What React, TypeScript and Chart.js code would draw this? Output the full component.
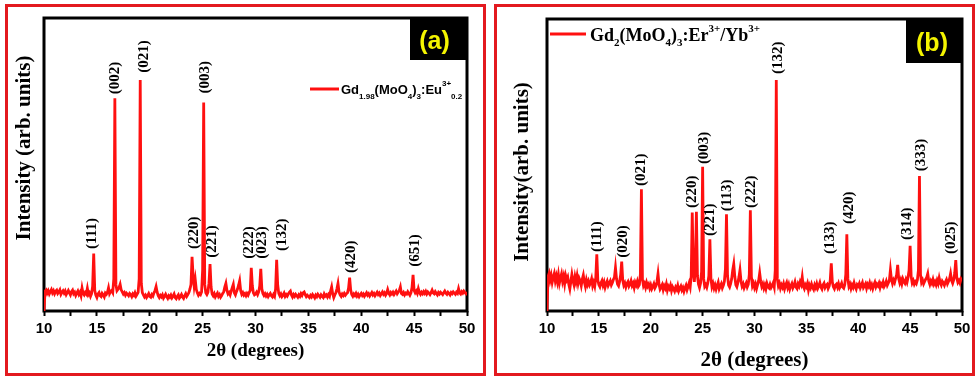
import React, { useEffect, useRef } from 'react';
import { Chart, registerables } from 'chart.js';

Chart.register(...registerables);

// ---- scan grid (2θ, degrees) ----
const scanStart = 10;
const scanStep = 0.1;

// ---- panel (a): Gd1.98(MoO4)3:Eu3+0.2, intensity for 2θ = 10.0 ... 50.0 (step 0.1) ----
const intensityA = [
  0, 6.8, 7.2, 6.1, 6.9, 5.8, 6.6, 7.3, 6.2, 6.9, // 10
  5.9, 6.7, 7.1, 6.0, 6.5, 7.2, 5.7, 6.4, 6.9, 6.1, // 11
  6.8, 5.6, 6.3, 7.0, 6.2, 5.5, 6.6, 7.1, 5.9, 6.4, // 12
  5.3, 6.1, 6.8, 5.7, 6.4, 5.2, 7.8, 6.0, 5.5, 6.3, // 13
  5.8, 7.7, 5.6, 6.2, 5.0, 5.9, 8.5, 19.6, 7.0, 5.4, // 14
  4.6, 5.8, 6.3, 5.2, 4.9, 6.0, 5.5, 4.8, 6.1, 5.7, // 15
  6.4, 7.9, 5.9, 6.6, 7.0, 6.3, 11.0, 72.6, 9.0, 6.9, // 16
  7.4, 8.0, 9.1, 7.2, 6.5, 5.8, 6.3, 5.4, 6.1, 5.7, // 17
  5.2, 6.0, 5.6, 4.9, 5.8, 5.3, 6.2, 5.1, 5.7, 6.4, // 18
  11.0, 78.8, 9.4, 6.3, 5.5, 4.8, 5.4, 4.6, 5.2, 5.9, // 19
  5.0, 4.7, 5.6, 5.1, 6.2, 7.0, 8.3, 6.4, 5.2, 4.6, // 20
  5.3, 4.8, 5.5, 4.4, 5.0, 5.7, 4.9, 4.3, 5.2, 4.7, // 21
  5.4, 4.5, 5.1, 5.8, 4.6, 4.2, 5.0, 5.5, 4.4, 4.9, // 22
  5.6, 4.8, 4.3, 5.2, 5.9, 5.0, 5.6, 6.3, 7.5, 9.0, // 23
  18.5, 12.0, 8.5, 10.8, 7.4, 6.2, 5.4, 6.0, 5.6, 6.5, // 24
  14.0, 71.2, 9.0, 6.2, 5.6, 6.4, 9.5, 16.0, 8.2, 5.8, // 25
  5.2, 5.9, 4.8, 5.5, 6.1, 5.0, 5.6, 4.7, 5.3, 6.0, // 26
  6.6, 8.2, 9.4, 7.0, 5.8, 6.3, 5.5, 6.8, 8.0, 9.1, // 27
  6.2, 5.5, 6.6, 7.5, 8.8, 10.3, 6.9, 5.7, 6.3, 5.4, // 28
  5.9, 5.2, 6.0, 5.4, 6.3, 7.0, 14.7, 8.6, 6.2, 5.5, // 29
  5.8, 6.4, 5.6, 6.5, 8.5, 14.4, 7.6, 6.0, 5.3, 5.9, // 30
  5.1, 5.7, 4.9, 5.5, 6.0, 5.2, 4.8, 5.6, 5.0, 7.5, // 31
  17.5, 8.8, 6.0, 5.2, 5.8, 4.9, 5.4, 6.1, 5.0, 5.6, // 32
  5.1, 5.8, 6.4, 6.8, 5.5, 4.8, 5.6, 5.0, 5.7, 5.2, // 33
  4.7, 5.5, 5.0, 5.9, 5.3, 6.2, 6.5, 5.6, 4.9, 5.4, // 34
  5.0, 4.6, 5.3, 4.8, 5.6, 5.1, 4.5, 5.4, 4.9, 5.7, // 35
  5.2, 4.7, 5.5, 5.0, 4.6, 5.8, 5.1, 5.5, 4.8, 5.6, // 36
  5.0, 6.8, 8.2, 5.9, 4.6, 5.5, 6.2, 7.6, 9.4, 6.5, // 37
  5.5, 5.0, 5.8, 5.3, 6.0, 5.4, 5.9, 6.2, 7.8, 11.4, // 38
  7.2, 5.6, 5.0, 5.8, 5.3, 6.0, 5.1, 5.7, 4.9, 5.5, // 39
  6.0, 5.3, 5.8, 5.0, 5.6, 6.2, 5.4, 5.9, 5.1, 5.7, // 40
  6.3, 5.5, 6.0, 5.2, 5.8, 6.4, 5.6, 6.1, 5.3, 5.9, // 41
  6.5, 5.7, 6.2, 5.4, 6.0, 7.3, 6.1, 5.5, 6.3, 5.8, // 42
  6.4, 5.6, 6.2, 6.8, 5.9, 6.5, 7.0, 8.2, 6.0, 5.7, // 43
  6.3, 5.5, 6.1, 5.8, 6.6, 6.0, 5.4, 6.2, 8.0, 12.3, // 44
  7.0, 6.2, 6.8, 6.0, 7.6, 6.3, 5.7, 6.4, 5.9, 6.6, // 45
  6.0, 6.7, 5.8, 6.5, 6.1, 5.6, 6.3, 7.1, 6.2, 5.9, // 46
  6.6, 6.0, 5.5, 6.3, 5.8, 6.4, 6.0, 5.6, 6.2, 6.8, // 47
  6.1, 5.7, 6.4, 6.0, 5.5, 6.3, 5.9, 6.5, 6.1, 5.7, // 48
  6.4, 6.0, 7.6, 6.2, 5.8, 6.6, 6.1, 6.8, 6.3, 5.9, // 49
  6.5, // 50
];

// ---- panel (b): Gd2(MoO4)3:Er3+/Yb3+, intensity for 2θ = 10.0 ... 50.0 (step 0.1) ----
const intensityB = [
  0, 11.8, 12.9, 10.6, 12.2, 9.8, 11.5, 12.8, 10.3, 11.9, // 10
  10.0, 12.4, 9.6, 11.3, 12.7, 10.2, 11.8, 9.4, 12.1, 10.7, // 11
  11.6, 9.2, 7.6, 10.1, 12.5, 10.4, 9.0, 11.7, 10.0, 12.0, // 12
  9.5, 11.2, 10.3, 8.7, 10.9, 12.3, 9.9, 8.4, 10.6, 9.1, // 13
  10.2, 8.9, 9.7, 11.0, 8.6, 9.8, 8.5, 11.2, 19.4, 10.5, // 14
  9.0, 8.3, 9.6, 10.4, 8.8, 9.9, 8.1, 9.3, 10.2, 8.7, // 15
  9.5, 10.3, 8.9, 9.7, 10.8, 11.5, 14.8, 11.0, 9.2, 8.6, // 16
  10.1, 12.4, 16.9, 10.5, 8.8, 9.6, 8.2, 9.4, 10.0, 8.5, // 17
  9.2, 10.3, 8.7, 9.5, 8.0, 9.8, 8.9, 10.1, 8.4, 9.0, // 18
  12.5, 41.7, 10.8, 8.6, 9.4, 8.1, 9.7, 8.5, 9.2, 7.8, // 19
  8.9, 7.6, 8.4, 9.3, 7.9, 8.6, 10.0, 12.7, 9.1, 7.5, // 20
  8.2, 9.0, 7.3, 8.6, 7.8, 9.2, 7.1, 8.4, 7.7, 8.8, // 21
  7.0, 8.3, 7.6, 6.8, 8.1, 7.4, 8.7, 6.9, 7.8, 8.5, // 22
  7.2, 8.0, 6.7, 7.9, 8.8, 7.3, 8.4, 9.6, 8.2, 12.0, // 23
  33.7, 14.0, 10.0, 15.0, 34.0, 12.0, 9.2, 8.0, 9.5, 13.5, // 24
  49.4, 11.0, 8.4, 9.0, 8.1, 9.6, 12.0, 24.6, 11.2, 8.3, // 25
  9.4, 7.8, 8.9, 7.5, 8.7, 9.8, 7.6, 8.5, 9.3, 7.9, // 26
  8.8, 10.2, 14.5, 33.1, 12.0, 8.9, 8.2, 9.4, 11.0, 14.0, // 27
  16.1, 11.8, 9.0, 8.3, 9.7, 11.6, 14.0, 10.2, 8.5, 9.3, // 28
  7.9, 8.8, 9.6, 8.2, 9.1, 12.5, 34.5, 11.8, 8.6, 9.5, // 29
  8.0, 9.2, 7.7, 9.0, 10.4, 13.0, 10.1, 8.4, 9.3, 7.8, // 30
  8.9, 7.6, 9.4, 8.3, 7.9, 9.1, 8.0, 8.7, 9.6, 8.2, // 31
  14.0, 79.1, 11.0, 8.6, 9.5, 7.8, 8.9, 8.1, 9.3, 7.6, // 32
  8.8, 9.7, 8.0, 9.1, 7.5, 8.6, 9.4, 7.9, 8.7, 9.9, // 33
  8.2, 7.7, 9.3, 8.5, 10.0, 9.1, 11.6, 8.4, 7.6, 9.0, // 34
  8.3, 9.4, 7.2, 8.8, 7.9, 9.2, 8.1, 7.4, 8.9, 8.0, // 35
  9.3, 7.8, 8.6, 9.7, 8.2, 7.5, 8.9, 9.5, 8.0, 8.7, // 36
  9.1, 7.7, 8.5, 10.5, 16.3, 10.0, 8.3, 7.6, 8.8, 9.2, // 37
  8.1, 9.3, 7.9, 8.6, 9.5, 8.2, 7.8, 9.0, 12.5, 26.3, // 38
  11.0, 8.4, 9.2, 7.7, 8.9, 8.1, 9.6, 8.3, 7.5, 9.0, // 39
  8.5, 9.4, 7.9, 8.8, 9.7, 8.0, 8.6, 9.3, 7.8, 9.1, // 40
  8.4, 9.6, 8.1, 9.0, 7.7, 8.9, 9.8, 8.3, 9.2, 8.6, // 41
  9.5, 8.0, 9.3, 8.7, 9.9, 8.4, 9.1, 10.2, 8.8, 9.6, // 42
  10.5, 14.0, 10.8, 9.4, 10.6, 9.8, 11.2, 12.4, 15.8, 11.0, // 43
  9.6, 10.7, 9.3, 11.0, 10.1, 9.5, 10.8, 9.8, 11.5, 14.0, // 44
  22.3, 11.8, 9.6, 10.4, 9.2, 10.0, 9.4, 10.6, 14.0, 46.2, // 45
  12.5, 9.8, 10.6, 9.3, 10.1, 10.9, 11.5, 12.8, 10.2, 9.1, // 46
  10.3, 9.5, 10.8, 9.2, 10.0, 9.0, 10.5, 9.4, 11.3, 9.7, // 47
  8.9, 10.2, 9.6, 8.8, 9.9, 10.7, 9.3, 10.1, 11.0, 12.8, // 48
  10.4, 9.5, 10.6, 13.0, 17.4, 11.2, 9.8, 10.5, 9.6, 10.9, // 49
  10.2, // 50
];

// ---- Miller-index labels (2θ of label, intensity at label foot) ----
const hklA = ['(111)', '(002)', '(021)', '(220)', '(003)', '(221)', '(222)', '(023)', '(132)', '(420)', '(651)'];
const hklXA = [14.53, 16.76, 19.46, 24.15, 25.28, 25.94, 29.43, 30.66, 32.55, 39.06, 45.09];
const hklYA = [21.2, 74.0, 81.3, 21.2, 74.2, 18.2, 17.8, 17.8, 20.5, 13.0, 15.1];

const hklB = ['(111)', '(020)', '(021)', '(220)', '(003)', '(221)', '(113)', '(222)', '(132)', '(133)', '(420)', '(314)', '(333)', '(025)'];
const hklXB = [14.81, 17.31, 19.04, 23.94, 25.19, 25.77, 27.4, 29.71, 32.31, 37.31, 39.13, 44.71, 46.06, 48.94];
const hklYB = [20.2, 18.2, 42.8, 35.3, 50.3, 25.7, 34.2, 35.3, 81.2, 19.5, 29.8, 24.3, 47.9, 19.5];

const xMin = 10;
const xMax = 50;
const yMin = 0;
const yMax = 100;

const RED = '#ff1010';
const SERIF = '"Liberation Serif", "Times New Roman", serif';
const SANS = '"Liberation Sans", Arial, sans-serif';

type Seg = { t: string; s: number; dy: number };

const legendA: Seg[] = [
  { t: 'Gd', s: 13, dy: 0 },
  { t: '1.98', s: 8, dy: 5 },
  { t: '(MoO', s: 13, dy: 0 },
  { t: '4', s: 8, dy: 5 },
  { t: ')', s: 13, dy: 0 },
  { t: '3', s: 8, dy: 5 },
  { t: ':Eu', s: 13, dy: 0 },
  { t: '3+', s: 8, dy: -8 },
  { t: '0.2', s: 8, dy: 5 },
];

const legendB: Seg[] = [
  { t: 'Gd', s: 18, dy: 0 },
  { t: '2', s: 11, dy: 5 },
  { t: '(MoO', s: 18, dy: 0 },
  { t: '4', s: 11, dy: 5 },
  { t: ')', s: 18, dy: 0 },
  { t: '3', s: 11, dy: 5 },
  { t: ':Er', s: 18, dy: 0 },
  { t: '3+', s: 11, dy: -9 },
  { t: '/Yb', s: 18, dy: 0 },
  { t: '3+', s: 11, dy: -9 },
];

type PanelCfg = {
  letter: string;
  intensity: number[];
  hkl: string[];
  hklX: number[];
  hklY: number[];
  legend: Seg[];
  legendFont: string;
  legendLine: [number, number, number];
  legendTextX: number;
  legendBaseline: number;
  boxLeft: number;
  boxBottom: number;
  letterCenter: [number, number];
  yTitle: string;
  yTitleCenter: [number, number];
  yTitleSize: number;
  xTitleSize: number;
  xTitlePad: number;
  area: { left: number; right: number; top: number; bottom: number };
};

const W = 490;
const H = 379;

function makePlugin(cfg: PanelCfg) {
  return {
    id: 'panelDecor' + cfg.letter,
    beforeDatasetsDraw(chart: any) {
      const { ctx, chartArea } = chart;
      ctx.save();
      ctx.strokeStyle = '#000';
      ctx.lineWidth = 3;
      ctx.strokeRect(chartArea.left, chartArea.top, chartArea.right - chartArea.left, chartArea.bottom - chartArea.top);
      ctx.restore();
    },
    afterDatasetsDraw(chart: any) {
      const { ctx, chartArea, scales } = chart;
      const xs = scales.x;
      const ys = scales.y;
      ctx.save();
      // letter box
      ctx.fillStyle = '#000';
      ctx.fillRect(cfg.boxLeft, chartArea.top, chartArea.right - cfg.boxLeft, cfg.boxBottom - chartArea.top);
      ctx.fillStyle = '#f4f400';
      ctx.font = `bold 25px ${SANS}`;
      ctx.textAlign = 'center';
      ctx.textBaseline = 'middle';
      ctx.fillText(`(${cfg.letter})`, cfg.letterCenter[0], cfg.letterCenter[1]);

      // hkl labels
      ctx.fillStyle = '#000';
      ctx.font = `bold 15px ${SERIF}`;
      ctx.textAlign = 'left';
      ctx.textBaseline = 'middle';
      cfg.hkl.forEach((t, i) => {
        const px = xs.getPixelForValue(cfg.hklX[i]);
        const py = ys.getPixelForValue(cfg.hklY[i]);
        ctx.save();
        ctx.translate(px, py);
        ctx.rotate(-Math.PI / 2);
        ctx.fillText(t, 0, 0);
        ctx.restore();
      });

      // legend
      const ds = chart.data.datasets[0];
      ctx.strokeStyle = ds.borderColor;
      ctx.lineWidth = 3;
      ctx.beginPath();
      ctx.moveTo(cfg.legendLine[0], cfg.legendLine[2]);
      ctx.lineTo(cfg.legendLine[1], cfg.legendLine[2]);
      ctx.stroke();
      ctx.fillStyle = '#000';
      ctx.textAlign = 'left';
      ctx.textBaseline = 'alphabetic';
      let x = cfg.legendTextX;
      cfg.legend.forEach((sg) => {
        ctx.font = `bold ${sg.s}px ${cfg.legendFont}`;
        ctx.fillText(sg.t, x, cfg.legendBaseline + sg.dy);
        x += ctx.measureText(sg.t).width;
      });

      // y title
      ctx.save();
      ctx.translate(cfg.yTitleCenter[0], cfg.yTitleCenter[1]);
      ctx.rotate(-Math.PI / 2);
      ctx.font = `bold ${cfg.yTitleSize}px ${SERIF}`;
      ctx.textAlign = 'center';
      ctx.textBaseline = 'middle';
      ctx.fillText(cfg.yTitle, 0, 0);
      ctx.restore();
      ctx.restore();
    },
  };
}

function Panel({ cfg, left }: { cfg: PanelCfg; left: number }) {
  const ref = useRef<HTMLCanvasElement | null>(null);
  useEffect(() => {
    if (!ref.current) return;
    const points = cfg.intensity.map((v, i) => ({ x: +(scanStart + i * scanStep).toFixed(1), y: v }));
    const a = cfg.area;
    const chart = new Chart(ref.current, {
      type: 'line',
      data: {
        datasets: [
          {
            data: points,
            borderColor: RED,
            borderWidth: 2.8,
            pointRadius: 0,
            tension: 0,
            fill: false,
          },
        ],
      },
      options: {
        animation: false,
        responsive: false,
        devicePixelRatio: 1,
        events: [],
        layout: { padding: { left: 0, top: a.top, right: W - a.right, bottom: 0 } },
        plugins: { legend: { display: false }, tooltip: { enabled: false } },
        scales: {
          x: {
            type: 'linear',
            min: xMin,
            max: xMax,
            afterFit: (s: any) => {
              s.height = H - a.bottom;
            },
            border: { display: false },
            grid: {
              display: true,
              drawOnChartArea: false,
              drawTicks: true,
              tickLength: 5,
              tickWidth: 2,
              tickColor: '#000',
            },
            ticks: {
              stepSize: 2.5,
              autoSkip: false,
              maxRotation: 0,
              padding: 4,
              color: '#000',
              font: { family: SANS, size: 15, weight: 'bold' },
              callback: (v: any) => (Number(v) % 5 === 0 ? String(v) : ''),
            },
            title: {
              display: true,
              text: '2θ (degrees)',
              color: '#000',
              font: { family: SERIF, size: cfg.xTitleSize, weight: 'bold' },
              padding: { top: 0, bottom: cfg.xTitlePad },
            },
          },
          y: {
            min: yMin,
            max: yMax,
            afterFit: (s: any) => {
              s.width = a.left;
            },
            border: { display: false },
            grid: { display: false },
            ticks: { display: false },
          },
        },
      } as any,
      plugins: [makePlugin(cfg)],
    });
    return () => chart.destroy();
  }, [cfg]);
  return <canvas ref={ref} width={W} height={H} style={{ position: 'absolute', left, top: 0, width: W, height: H }} />;
}

const cfgA: PanelCfg = {
  letter: 'a',
  intensity: intensityA,
  hkl: hklA,
  hklX: hklXA,
  hklY: hklYA,
  legend: legendA,
  legendFont: SANS,
  legendLine: [310, 339, 89],
  legendTextX: 341,
  legendBaseline: 94,
  boxLeft: 410,
  boxBottom: 60,
  letterCenter: [434.5, 42.5],
  yTitle: 'Intensity (arb. units)',
  yTitleCenter: [25, 148],
  yTitleSize: 21,
  xTitleSize: 19,
  xTitlePad: 17,
  area: { left: 44, right: 467, top: 18, bottom: 311 },
};

const cfgB: PanelCfg = {
  letter: 'b',
  intensity: intensityB,
  hkl: hklB,
  hklX: hklXB,
  hklY: hklYB,
  legend: legendB,
  legendFont: SERIF,
  legendLine: [61, 97, 34],
  legendTextX: 101,
  legendBaseline: 41,
  boxLeft: 417,
  boxBottom: 63,
  letterCenter: [443, 44],
  yTitle: 'Intensity(arb. units)',
  yTitleCenter: [34, 172],
  yTitleSize: 21,
  xTitleSize: 21,
  xTitlePad: 6,
  area: { left: 58, right: 473, top: 19, bottom: 311 },
};

export default function App() {
  return (
    <div style={{ position: 'fixed', left: 0, top: 0, width: 979, height: 379, background: '#fff', overflow: 'hidden' }}>
      <div style={{ position: 'absolute', left: 5, top: 4, width: 481, height: 372, border: '3px solid #e3191f', boxSizing: 'border-box' }} />
      <div style={{ position: 'absolute', left: 494, top: 4, width: 481, height: 372, border: '3px solid #e3191f', boxSizing: 'border-box' }} />
      <Panel cfg={cfgA} left={0} />
      <Panel cfg={cfgB} left={489} />
    </div>
  );
}
